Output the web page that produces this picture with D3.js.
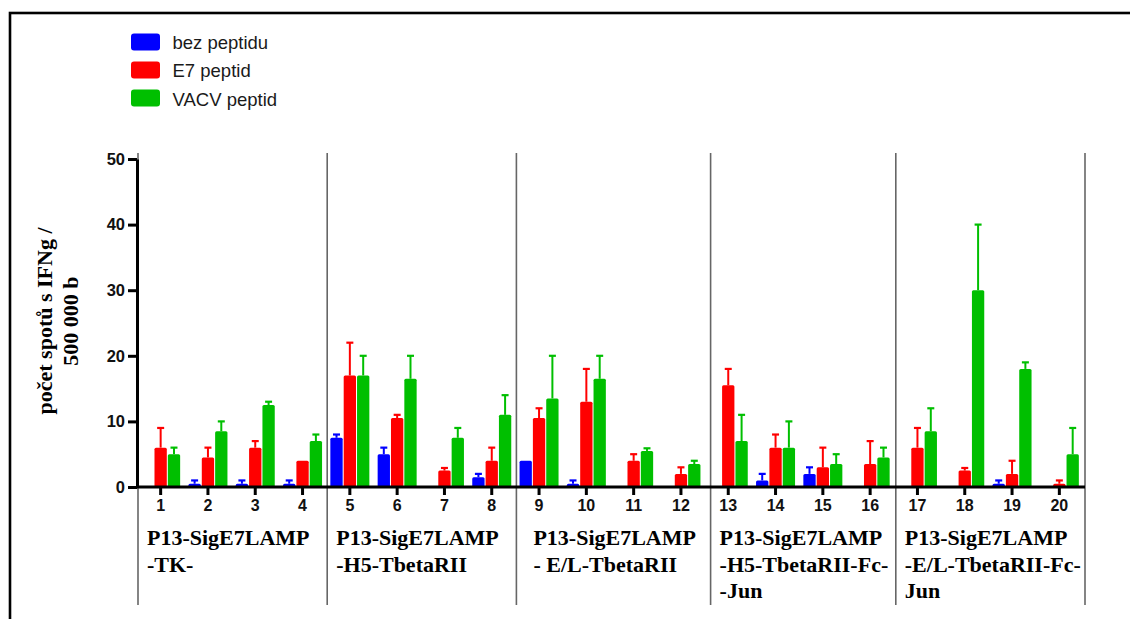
<!DOCTYPE html>
<html>
<head>
<meta charset="utf-8">
<script src="https://cdn.jsdelivr.net/npm/d3@7/dist/d3.min.js"></script>
<style>
  html, body { margin: 0; padding: 0; background: #fff; }
  svg { display: block; }
</style>
</head>
<body>
<script>
// ELISPOT counts per construct, three stimulation conditions
const categories = ["1","2","3","4","5","6","7","8","9","10","11","12","13","14","15","16","17","18","19","20"];
const seriesNames = ["bez peptidu", "E7 peptid", "VACV peptid"];
const seriesColors = ["#0000ff", "#ff0000", "#00bf00"];

const bezPeptidu    = [0, 0.5, 0.5, 0.5, 7.5, 5, 0, 1.5, 4, 0.5, 0, 0, 0, 1, 2, 0, 0, 0, 0.5, 0];
const bezPeptiduErr = [0, 0.5, 0.5, 0.5, 0.5, 1, 0, 0.5, 0, 0.5, 0, 0, 0, 1, 1, 0, 0, 0, 0.5, 0];
const e7Peptid      = [6, 4.5, 6, 4, 17, 10.5, 2.5, 4, 10.5, 13, 4, 2, 15.5, 6, 3, 3.5, 6, 2.5, 2, 0.5];
const e7PeptidErr   = [3, 1.5, 1, 0, 5, 0.5, 0.4, 2, 1.5, 5, 1, 1, 2.5, 2, 3, 3.5, 3, 0.4, 2, 0.5];
const vacvPeptid    = [5, 8.5, 12.5, 7, 17, 16.5, 7.5, 11, 13.5, 16.5, 5.5, 3.5, 7, 6, 3.5, 4.5, 8.5, 30, 18, 5];
const vacvPeptidErr = [1, 1.5, 0.5, 1, 3, 3.5, 1.5, 3, 6.5, 3.5, 0.4, 0.5, 4, 4, 1.5, 1.5, 3.5, 10, 1, 4];

const yTicks = [0, 10, 20, 30, 40, 50];
const yTitleLines = ["počet spotů s IFNg /", "500 000 b"];

// construct groups: first category of each group and its label lines
const groupStarts = ["1", "5", "9", "13", "17"];
const groupLabels = [
  ["P13-SigE7LAMP", "-TK-"],
  ["P13-SigE7LAMP", "-H5-TbetaRII"],
  ["P13-SigE7LAMP", "- E/L-TbetaRII"],
  ["P13-SigE7LAMP", "-H5-TbetaRII-Fc-", "-Jun"],
  ["P13-SigE7LAMP", "-E/L-TbetaRII-Fc-", "Jun"]
];

const values = [bezPeptidu, e7Peptid, vacvPeptid];
const errors = [bezPeptiduErr, e7PeptidErr, vacvPeptidErr];

const rows = [];
categories.forEach((c, i) => {
  seriesNames.forEach((s, k) => {
    rows.push({ cat: c, series: s, k, value: values[k][i], err: errors[k][i] });
  });
});

const W = 1130, H = 619;
const svg = d3.select("body").append("svg").attr("width", W).attr("height", H);

// outer frame (runs past the right and bottom edges)
svg.append("rect")
  .attr("x", 10).attr("y", 13).attr("width", 1400).attr("height", 800)
  .attr("fill", "none").attr("stroke", "#000").attr("stroke-width", 2.6);

const x = d3.scaleBand().domain(categories).range([137, 1083]).padding(0);
const xSub = d3.scaleBand().domain(seriesNames).range([0, 39]).paddingInner(1 / 13);
const y = d3.scaleLinear().domain([0, 50]).range([487, 159]);

// group separators (small nudges keep them clear of neighbouring bars)
const sepNudge = [1, 1, 1, 6, 2, 2];
const sepX = groupStarts.map(g => x(g))
  .concat([x(categories[categories.length - 1]) + x.bandwidth()])
  .map((v, i) => v + sepNudge[i]);
svg.append("g").selectAll("line").data(sepX).join("line")
  .attr("x1", d => d).attr("x2", d => d)
  .attr("y1", 153).attr("y2", 605)
  .attr("stroke", "#666").attr("stroke-width", 1.6);

// bars
const color = d3.scaleOrdinal().domain(seriesNames).range(seriesColors);
const barX = d => x(d.cat) + x.bandwidth() / 2 - 19.5 + xSub(d.series);

const barRows = rows.filter(d => d.value > 0);

// error bars (upper only)
const errRows = barRows.filter(d => d.err > 0);
const eg = svg.append("g");
eg.selectAll("line.stem").data(errRows).join("line").attr("class", "stem")
  .attr("x1", d => barX(d) + xSub.bandwidth() / 2).attr("x2", d => barX(d) + xSub.bandwidth() / 2)
  .attr("y1", d => y(d.value)).attr("y2", d => y(d.value + d.err))
  .attr("stroke", d => color(d.series)).attr("stroke-width", 2);
eg.selectAll("line.cap").data(errRows).join("line").attr("class", "cap")
  .attr("x1", d => barX(d) + xSub.bandwidth() / 2 - 3.5).attr("x2", d => barX(d) + xSub.bandwidth() / 2 + 3.5)
  .attr("y1", d => y(d.value + d.err)).attr("y2", d => y(d.value + d.err))
  .attr("stroke", d => color(d.series)).attr("stroke-width", 2.2);

svg.append("g").selectAll("rect").data(barRows).join("rect")
  .attr("x", d => barX(d))
  .attr("y", d => y(d.value))
  .attr("width", xSub.bandwidth())
  .attr("height", d => y(0) - y(d.value) + 1)
  .attr("rx", 1.5)
  .attr("fill", d => color(d.series));

// y axis
const yAxis = svg.append("g").attr("transform", "translate(137,0)")
  .call(d3.axisLeft(y).tickValues(yTicks).tickSize(9).tickSizeOuter(0).tickPadding(3));
yAxis.select(".domain").attr("stroke", "#000").attr("stroke-width", 3);
yAxis.selectAll(".tick line").attr("stroke", "#000").attr("stroke-width", 3);
yAxis.selectAll(".tick text")
  .attr("font-family", "'Liberation Sans', Arial, sans-serif")
  .attr("font-weight", "bold").attr("font-size", 16.5).attr("fill", "#111");

// x axis
const xAxis = svg.append("g").attr("transform", `translate(0,${y(0)})`)
  .call(d3.axisBottom(x).tickSize(8).tickSizeOuter(0).tickPadding(5));
xAxis.select(".domain").attr("stroke", "#000").attr("stroke-width", 3)
  .attr("d", `M137,0H${sepX[sepX.length - 1]}`);
xAxis.selectAll(".tick line").attr("stroke", "#000").attr("stroke-width", 3);
xAxis.selectAll(".tick text")
  .attr("font-family", "'Liberation Sans', Arial, sans-serif")
  .attr("font-weight", "bold").attr("font-size", 16).attr("fill", "#111");

// y axis title
const yTitle = svg.append("text")
  .attr("transform", "translate(52,321) rotate(-90)")
  .attr("text-anchor", "middle")
  .attr("font-family", "'Liberation Serif', 'Times New Roman', serif")
  .attr("font-weight", "bold").attr("font-size", 22).attr("fill", "#000");
yTitle.selectAll("tspan").data(yTitleLines).join("tspan")
  .attr("x", 0).attr("dy", (d, i) => i === 0 ? 0 : 25.5)
  .text(d => d);

// construct labels under each group
const lg = svg.append("g")
  .attr("font-family", "'Liberation Serif', 'Times New Roman', serif")
  .attr("font-weight", "bold").attr("font-size", 22).attr("fill", "#000");
groupLabels.forEach((lines, gi) => {
  const lx = sepX[gi] + (gi === 2 ? 17 : 9);
  const t = lg.append("text").attr("x", lx).attr("y", 545);
  t.selectAll("tspan").data(lines).join("tspan")
    .attr("x", lx)
    .attr("dy", (d, i) => i === 0 ? 0 : 26.5)
    .text(d => d);
});

// legend
const legend = svg.append("g");
seriesNames.forEach((s, i) => {
  legend.append("rect")
    .attr("x", 131).attr("y", 33.5 + i * 28).attr("width", 29).attr("height", 17).attr("rx", 3)
    .attr("fill", seriesColors[i]);
  legend.append("text")
    .attr("x", 172.5).attr("y", 48.5 + i * 28.5)
    .attr("font-family", "'Liberation Sans', Arial, sans-serif")
    .attr("font-size", 18.5).attr("fill", "#1a1a1a")
    .text(s);
});
</script>
</body>
</html>
